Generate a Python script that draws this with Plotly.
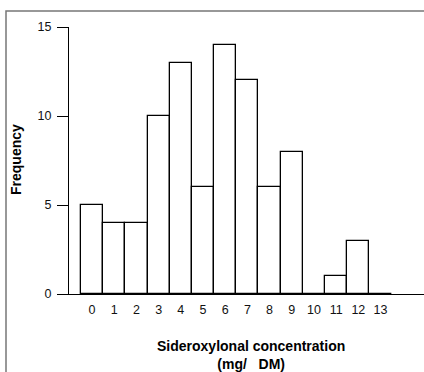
import plotly.graph_objects as go

concentration = list(range(14))
frequency = [5, 4, 4, 10, 13, 6, 14, 12, 6, 8, 0, 1, 3, 0]
y_ticks = [0, 5, 10, 15]

W, H = 424, 372
L, R, T, B = 69, 0, 27, 78
pw = W - L - R
ph = H - T - B

def px_to_paper_x(px):
    return (px - L) / pw

def px_to_paper_y(py):
    return (H - B - py) / ph

fig = go.Figure()
fig.add_trace(go.Bar(
    x=concentration, y=frequency, width=1.0,
    marker=dict(color="white", line=dict(color="black", width=1.3)),
    showlegend=False, hoverinfo="x+y",
))

font_family = "Liberation Sans, Arial, sans-serif"

fig.update_layout(
    width=W, height=H,
    margin=dict(l=L, r=R, t=T, b=B),
    paper_bgcolor="white", plot_bgcolor="white",
    bargap=0,
    font=dict(family=font_family, size=12.5, color="black"),
    xaxis=dict(
        range=[-1.04, 14.96],
        tickvals=concentration, ticktext=[str(c) for c in concentration],
        ticks="", showgrid=False, zeroline=False,
        showline=True, linecolor="black", linewidth=1.3,
        tickfont=dict(size=12.5, color="#111"),
        ticklabelstandoff=4,
    ),
    yaxis=dict(
        range=[0, 15],
        tickvals=y_ticks,
        ticks="outside", ticklen=11, tickwidth=1, tickcolor="black",
        showgrid=False, zeroline=False,
        showline=True, linecolor="black", linewidth=1.3,
        tickfont=dict(size=12.5, color="#111"),
        ticklabelstandoff=3,
    ),
    annotations=[
        dict(text="Sideroxylonal concentration<br>(mg/\u00a0\u00a0\u00a0DM)",
             xref="paper", yref="paper",
             x=px_to_paper_x(251), y=px_to_paper_y(355),
             xanchor="center", yanchor="middle", showarrow=False,
             font=dict(size=14, family=font_family, color="black", weight="bold")),
        dict(text="Frequency", textangle=-90,
             xref="paper", yref="paper",
             x=px_to_paper_x(16), y=px_to_paper_y(160),
             xanchor="center", yanchor="middle", showarrow=False,
             font=dict(size=14, family=font_family, color="black", weight="bold")),
    ],
    shapes=[
        dict(type="rect", xref="paper", yref="paper",
             x0=px_to_paper_x(6), x1=px_to_paper_x(440),
             y0=px_to_paper_y(390), y1=px_to_paper_y(11),
             line=dict(color="#777", width=1.5), fillcolor="rgba(0,0,0,0)",
             layer="below"),
    ],
)

fig.write_html("out.html",
               config={"displayModeBar": False},
               post_script="document.body.style.margin='0px';document.body.style.overflow='hidden';")
